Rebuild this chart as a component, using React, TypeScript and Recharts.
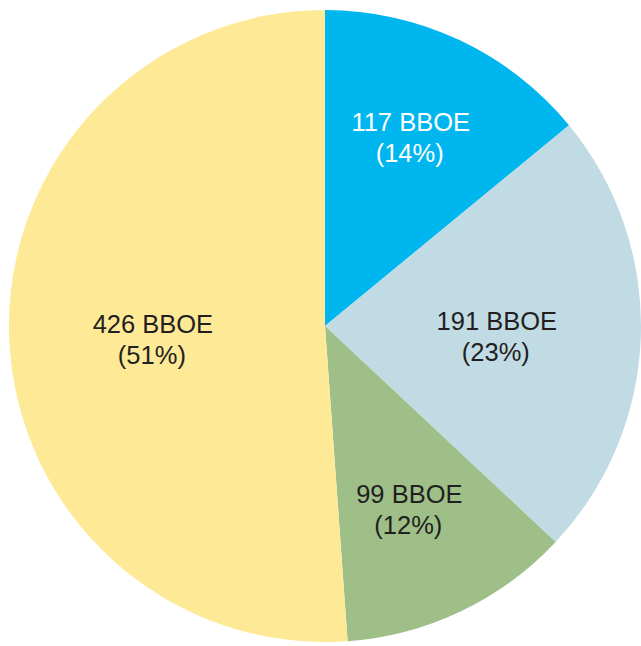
import { PieChart, Pie, Cell } from 'recharts';

const names = ['Slice A', 'Slice B', 'Slice C', 'Slice D'];
const values = [117, 191, 99, 426];
const percents = ['14%', '23%', '12%', '51%'];
const colors = ['#00B6EF', '#C1DBE5', '#9EBF88', '#FDE996'];
const labelColors = ['#FFFFFF', '#231F20', '#231F20', '#231F20'];

const chartData = names.map((name, i) => ({ name, value: values[i] }));

// label placement: share of radius, and a small vertical nudge per slice
const labelRadius = [0.635, 0.544, 0.62, 0.545];
const labelNudge = [-13.5, -2, 0, 0.5];

const RADIAN = Math.PI / 180;

function renderLabel(props: any) {
  const { cx, cy, midAngle, outerRadius, index } = props;
  const r = outerRadius * labelRadius[index];
  const x = cx + r * Math.cos(-midAngle * RADIAN);
  const y = cy + r * Math.sin(-midAngle * RADIAN);
  return (
    <text
      x={x}
      y={y}
      fill={labelColors[index]}
      textAnchor="middle"
      fontFamily="'Liberation Sans', Arial, sans-serif"
      fontSize={25.5}
      style={{ fontSize: 25.5 }}
    >
      <tspan x={x} dy={labelNudge[index]}>{values[index]} BBOE</tspan>
      <tspan x={x - 1} dy={31}>({percents[index]})</tspan>
    </text>
  );
}

export default function App() {
  return (
    <div style={{ width: 641, height: 646, background: '#fff' }}>
      <style>{'body{margin:0;overflow:hidden}'}</style>
      <PieChart width={641} height={646} margin={{ top: 0, right: 0, bottom: 0, left: 0 }}>
        <Pie
          data={chartData}
          dataKey="value"
          cx={325}
          cy={326}
          outerRadius={316}
          startAngle={90}
          endAngle={-270}
          stroke="none"
          label={renderLabel}
          labelLine={false}
          isAnimationActive={false}
        >
          {chartData.map((d, i) => (
            <Cell key={d.name} fill={colors[i]} />
          ))}
        </Pie>
      </PieChart>
    </div>
  );
}
